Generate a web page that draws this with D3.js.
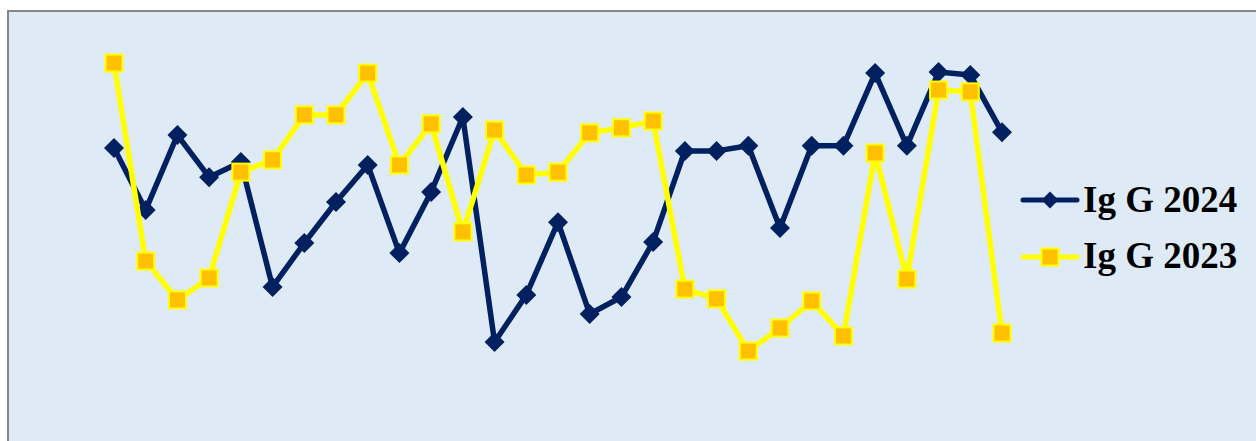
<!DOCTYPE html>
<html>
<head>
<meta charset="utf-8">
<script src="https://cdn.jsdelivr.net/npm/d3@7/dist/d3.min.js"></script>
<style>
  html, body { margin: 0; padding: 0; background: #ffffff; }
  svg { display: block; }
</style>
</head>
<body>
<svg id="chart" width="1256" height="441"></svg>
<script>
// Sample order (x axis, not labelled)
const categories = d3.range(1, 30).map(String);

// Ig G levels per sample
const igG2024 = [1300, 1128, 1336, 1219, 1261, 914, 1036, 1150, 1253, 1008,
                 1178, 1386, 761, 892, 1094, 839, 886, 1039, 1292, 1292,
                 1306, 1078, 1306, 1306, 1508, 1306, 1511, 1503, 1344];
const igG2023 = [1536, 986, 878, 939, 1233, 1267, 1392, 1392, 1508, 1253,
                 1367, 1067, 1350, 1225, 1233, 1342, 1356, 1375, 908, 881,
                 736, 800, 875, 778, 1286, 936, 1461, 1456, 786];

const seriesNames = ["Ig G 2024", "Ig G 2023"];

const W = 1256, H = 441;
const svg = d3.select("#chart");

// panel background and frame
svg.append("rect").attr("x", 0).attr("y", 0).attr("width", W).attr("height", H)
  .attr("fill", "#ffffff");
svg.append("rect").attr("x", 8).attr("y", 11).attr("width", W + 20).attr("height", H + 20)
  .attr("fill", "#deeaf6").attr("stroke", "#868686").attr("stroke-width", 2);

const x = d3.scalePoint().domain(categories).range([114, 1002]);
const y = d3.scaleLinear().domain([600, 1600]).range([400, 40]);

const line = d3.line()
  .x((d, i) => x(categories[i]))
  .y(d => y(d));

const diamond = r => `M0,${-r}L${r},0L0,${r}L${-r},0Z`;

// 2024 series: navy line with diamond markers
svg.append("path").datum(igG2024)
  .attr("d", line).attr("fill", "none")
  .attr("stroke", "#002060").attr("stroke-width", 5.5)
  .attr("stroke-linejoin", "round");
svg.append("g").selectAll("path").data(igG2024).join("path")
  .attr("transform", (d, i) => `translate(${x(categories[i])},${y(d)})`)
  .attr("d", diamond(10))
  .attr("fill", "#002060");

// 2023 series: yellow line with orange square markers
svg.append("path").datum(igG2023)
  .attr("d", line).attr("fill", "none")
  .attr("stroke", "#ffff00").attr("stroke-width", 5.5)
  .attr("stroke-linejoin", "round");
svg.append("g").selectAll("rect").data(igG2023).join("rect")
  .attr("x", (d, i) => x(categories[i]) - 8.5)
  .attr("y", d => y(d) - 8.5)
  .attr("width", 17).attr("height", 17)
  .attr("fill", "#ffc000").attr("stroke", "#ffff00").attr("stroke-width", 2);

// legend
const legend = svg.append("g");
const legendRows = [
  { name: seriesNames[0], ly: 200, ty: 212, color: "#002060" },
  { name: seriesNames[1], ly: 257, ty: 268, color: "#ffff00" }
];
legendRows.forEach((r, i) => {
  legend.append("line").attr("x1", 1023).attr("x2", 1077)
    .attr("y1", r.ly).attr("y2", r.ly)
    .attr("stroke", r.color).attr("stroke-width", 5).attr("stroke-linecap", "round");
  if (i === 0) {
    legend.append("path").attr("transform", `translate(1050,${r.ly})`)
      .attr("d", diamond(8.5)).attr("fill", "#002060");
  } else {
    legend.append("rect").attr("x", 1050 - 8.5).attr("y", r.ly - 8.5)
      .attr("width", 17).attr("height", 17)
      .attr("fill", "#ffc000").attr("stroke", "#ffff00").attr("stroke-width", 2);
  }
  legend.append("text").attr("x", 1083).attr("y", r.ty)
    .attr("font-family", "'Liberation Serif', 'Times New Roman', serif")
    .attr("font-weight", "bold").attr("font-size", 37)
    .attr("fill", "#000000").text(r.name);
});
</script>
</body>
</html>
